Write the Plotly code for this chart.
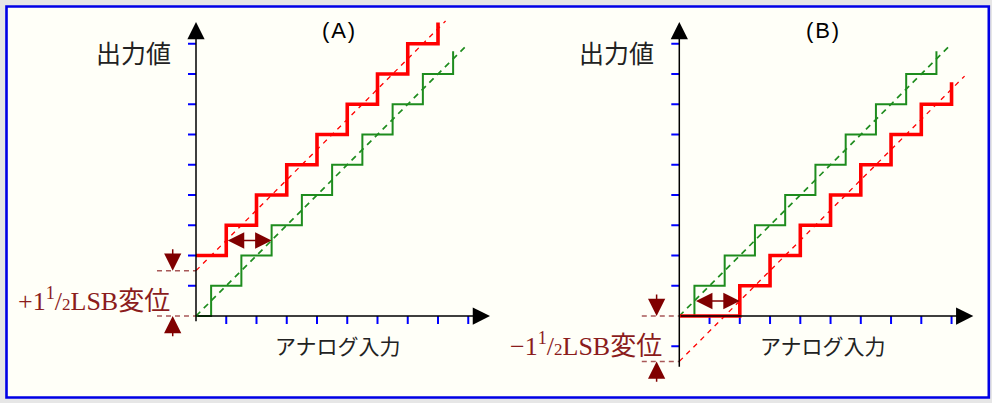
import plotly.graph_objects as go

# ---------------- data (in LSB units) ----------------
tick_values = [1, 2, 3, 4, 5, 6, 7, 8, 9]
extra_y_ticks_B = [-1]

# ideal transfer (green) staircase: transition x positions and output levels
ideal_step_x = [0, 0.5, 1.5, 2.5, 3.5, 4.5, 5.5, 6.5, 7.5, 8.5]
ideal_step_y = [0, 1, 2, 3, 4, 5, 6, 7, 8, 8.75]
ideal_line_x = [0, 8.9]
ideal_line_y = [0, 8.9]

# (A) +1 1/2 LSB offset (red)
offA_step_x = [0, 1, 2, 3, 4, 5, 6, 7, 8]
offA_step_y = [2, 3, 4, 5, 6, 7, 8, 9, 9.7]
offA_line_x = [0, 8.25]
offA_line_y = [1.5, 9.75]
offset_A = 1.5

# (B) -1 1/2 LSB offset (red)
offB_step_x = [0, 2, 3, 4, 5, 6, 7, 8, 9]
offB_step_y = [0, 1, 2, 3, 4, 5, 6, 7, 7.73]
offB_line_x = [0, 9.43]
offB_line_y = [-1.5, 7.93]
offset_B = -1.5

# double arrows showing the horizontal shift
shiftA_x = [1, 2.5]
shiftA_y = 2.5
shiftB_x = [0.5, 2]
shiftB_y = 0.5

labelA = "+1<sup>1</sup>/<span style='font-size:17px'>2</span>LSB変位"
labelB = "−1<sup>1</sup>/<span style='font-size:17px'>2</span>LSB変位"
title_A = "(\u200aA\u200a)"
title_B = "(\u200aB\u200a)"
ylabel = "出力値"
xlabel = "アナログ入力"

# ---------------- geometry / style ----------------
W, H = 992, 403
U = 30.25                    # pixels per LSB
OA = (196.0, 316.0)          # origin of panel A in pixels
OB = (679.3, 316.0)          # origin of panel B in pixels
TICKLEN = 8 / U
AX_TIP = 9.72

RED = "#ff0000"
GREEN = "#1e8c1e"
DARKRED = "#800000"
DASHRED = "#a85858"
TXTRED = "#8b1c1c"
BLUE = "#0000ff"

fig = go.Figure()

def panel(xr, yaxis_bottom, yticks, step_off_x, step_off_y, line_off_x, line_off_y,
          offset, shift_x, shift_y, label, label_pos, title, title_x, xlabel_x,
          lbl_dash_x0, lbl_arrow_x):
    # ticks on y axis (to the left)
    tx, ty = [], []
    for t in yticks:
        tx += [-TICKLEN, 0, None]
        ty += [t, t, None]
    fig.add_trace(go.Scatter(x=tx, y=ty, mode="lines", xaxis=xr, yaxis="y",
                             line=dict(color=BLUE, width=2), hoverinfo="skip", showlegend=False))
    # ticks on x axis (downwards)
    tx, ty = [], []
    for t in tick_values:
        tx += [t, t, None]
        ty += [0, -TICKLEN, None]
    fig.add_trace(go.Scatter(x=tx, y=ty, mode="lines", xaxis=xr, yaxis="y",
                             line=dict(color=BLUE, width=2), hoverinfo="skip", showlegend=False))
    # label helper dashed lines
    for yv in [0, offset]:
        fig.add_trace(go.Scatter(x=[lbl_dash_x0, 0], y=[yv, yv], mode="lines", xaxis=xr, yaxis="y",
                                 line=dict(color=DASHRED, width=1.5, dash="5px,4px"),
                                 hoverinfo="skip", showlegend=False))
    # dashed ideal lines
    fig.add_trace(go.Scatter(x=ideal_line_x, y=ideal_line_y, mode="lines", xaxis=xr, yaxis="y",
                             line=dict(color=GREEN, width=1.7, dash="6px,5px"),
                             hoverinfo="skip", showlegend=False))
    fig.add_trace(go.Scatter(x=line_off_x, y=line_off_y, mode="lines", xaxis=xr, yaxis="y",
                             line=dict(color=RED, width=1.3, dash="5px,5px"),
                             hoverinfo="skip", showlegend=False))
    # staircases
    fig.add_trace(go.Scatter(x=ideal_step_x, y=ideal_step_y, mode="lines", xaxis=xr, yaxis="y",
                             line=dict(color=GREEN, width=2, shape="hv"),
                             hoverinfo="skip", showlegend=False))
    fig.add_trace(go.Scatter(x=step_off_x, y=step_off_y, mode="lines", xaxis=xr, yaxis="y",
                             line=dict(color=RED, width=3.6, shape="hv"),
                             hoverinfo="skip", showlegend=False))

    ref = dict(xref=xr, yref="y", axref=xr, ayref="y")
    # axes with arrowheads
    fig.add_annotation(x=0, y=AX_TIP, ax=0, ay=yaxis_bottom, text="", showarrow=True,
                       arrowhead=2, arrowsize=2.3, arrowwidth=1.5, arrowcolor="black", **ref)
    fig.add_annotation(x=AX_TIP, y=0, ax=0, ay=0, text="", showarrow=True,
                       arrowhead=2, arrowsize=2.3, arrowwidth=1.5, arrowcolor="black", **ref)
    # double arrow
    fig.add_annotation(x=shift_x[1], y=shift_y, ax=shift_x[0], ay=shift_y, text="", showarrow=True,
                       arrowhead=2, startarrowhead=2, arrowside="end+start", arrowsize=2.2,
                       startarrowsize=2.2, arrowwidth=1.5, arrowcolor=DARKRED, **ref)
    # vertical offset arrows
    top = max(0, offset)
    bot = min(0, offset)
    fig.add_annotation(x=lbl_arrow_x, y=top, ax=lbl_arrow_x, ay=top + 0.76, text="", showarrow=True,
                       arrowhead=2, arrowsize=2.3, arrowwidth=1.5, arrowcolor=DARKRED, **ref)
    fig.add_annotation(x=lbl_arrow_x, y=bot, ax=lbl_arrow_x, ay=bot - 0.72, text="", showarrow=True,
                       arrowhead=2, arrowsize=2.3, arrowwidth=1.5, arrowcolor=DARKRED, **ref)
    # texts
    fig.add_annotation(x=label_pos[0], y=label_pos[1], text=label, showarrow=False,
                       xref=xr, yref="y", xanchor="center", yanchor="middle",
                       font=dict(family="Liberation Serif, DejaVu Serif, Noto Sans CJK JP, serif",
                                 size=26, color=TXTRED))
    fig.add_annotation(x=-2.07, y=8.73, text=ylabel, showarrow=False, xref=xr, yref="y",
                       xanchor="center", yanchor="middle",
                       font=dict(family="Noto Sans CJK JP", size=25, color="#222222"))
    fig.add_annotation(x=xlabel_x, y=-0.96, text=xlabel, showarrow=False, xref=xr, yref="y",
                       xanchor="center", yanchor="middle",
                       font=dict(family="Noto Sans CJK JP", size=21, color="#222222"))
    fig.add_annotation(x=title_x, y=9.45, text=title, showarrow=False, xref=xr, yref="y",
                       xanchor="center", yanchor="middle",
                       font=dict(family="Liberation Sans, Arial, sans-serif", size=22, color="#000000"))


panel("x", -0.22, tick_values, offA_step_x, offA_step_y, offA_line_x, offA_line_y,
      offset_A, shiftA_x, shiftA_y, labelA, (-3.36, 0.56), title_A, 4.71, 4.68, -1.29, -0.77)
panel("x2", -1.73, tick_values + extra_y_ticks_B, offB_step_x, offB_step_y, offB_line_x, offB_line_y,
      offset_B, shiftB_x, shiftB_y, labelB, (-3.10, -0.93), title_B, 4.74, 4.74, -1.24, -0.75)

fig.add_shape(type="rect", xref="paper", yref="paper",
              x0=6.5 / W, x1=988.8 / W, y0=1 - 397.5 / H, y1=1 - 6.5 / H,
              line=dict(color="#0000e6", width=2.6), fillcolor="#fffff8", layer="below")

fig.update_layout(
    width=W, height=H,
    margin=dict(l=0, r=0, t=0, b=0),
    paper_bgcolor="#e6e6e6",
    plot_bgcolor="rgba(0,0,0,0)",
    showlegend=False,
    xaxis=dict(range=[-OA[0] / U, (W - OA[0]) / U], visible=False, domain=[0, 1], fixedrange=True),
    xaxis2=dict(range=[-OB[0] / U, (W - OB[0]) / U], visible=False, domain=[0, 1],
                overlaying="x", anchor="y", fixedrange=True),
    yaxis=dict(range=[-(H - OA[1]) / U, OA[1] / U], visible=False, domain=[0, 1], fixedrange=True),
)

fig.write_html("out.html", config={"displayModeBar": False},
               post_script="document.body.style.margin='0';document.body.style.overflow='hidden';"
                           "document.body.style.background='#e6e6e6';")
